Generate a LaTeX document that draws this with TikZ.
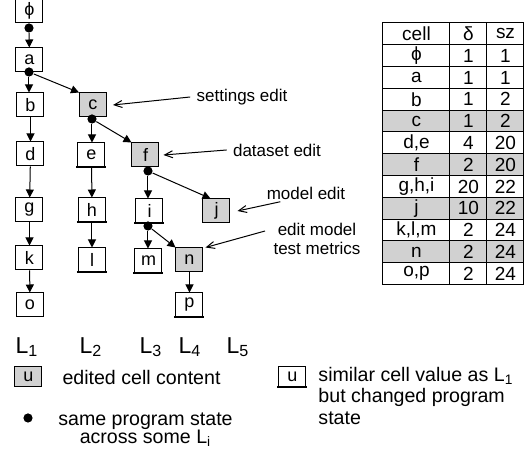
\documentclass[tikz,border=0pt]{standalone}
\usepackage{fontspec}
\setmainfont{Liberation Sans}
\usetikzlibrary{arrows.meta}
\definecolor{editgray}{gray}{0.82}

\begin{document}
\begin{tikzpicture}[x=0.5pt,y=-0.5pt,line width=0.5pt,
		cellbox/.style={draw,minimum width=13.5pt,minimum height=12pt,inner sep=0pt,font=\fontsize{9}{10}\selectfont},
		edited/.style={cellbox,fill=editgray},
		dot/.style={circle,fill,inner sep=0pt,minimum size=4.6pt},
		flow/.style={-{Triangle[length=4pt,width=4pt]}},
		note/.style={font=\fontsize{8.5}{9.5}\selectfont,inner sep=1pt},
		pointer/.style={-{Straight Barb[length=4pt,width=3.5pt]}},
		uline/.style={line width=1pt},
		lane/.style={font=\fontsize{11.5}{12}\selectfont},
		legend/.style={font=\fontsize{9.8}{9}\selectfont,inner sep=0pt},
		tcell/.style={draw,minimum height=10.9pt,inner sep=0pt,font=\fontsize{9.5}{10}\selectfont}]
	\useasboundingbox (0,0) rectangle (532,454);

	% cells of the lanes
	\node[cellbox] (phi) at (29.5,11) {ϕ};
	\node[cellbox] (a) at (29.5,60) {a};
	\node[cellbox] (b) at (30.5,105) {b};
	\node[edited] (c) at (93,105) {c};
	\node[cellbox] (d) at (30.5,154) {d};
	\node[cellbox] (e) at (91.5,155) {e};
	\node[edited] (f) at (145.5,155) {f};
	\node[cellbox] (g) at (29.5,210) {g};
	\node[cellbox] (h) at (92,210) {h};
	\node[cellbox] (i) at (149.5,211) {i};
	\node[edited] (j) at (216.5,211) {j};
	\node[cellbox] (k) at (29.5,258) {k};
	\node[cellbox] (l) at (92,260) {l};
	\node[cellbox] (m) at (148.5,261) {m};
	\node[edited] (n) at (189.5,260) {n};
	\node[cellbox] (o) at (30,305) {o};
	\node[cellbox] (p) at (189.5,305) {p};

	\foreach \u in {e,h,i,l,m,p}
		\draw[uline] ([xshift=-0.5pt]\u.south west) -- ([xshift=0.5pt]\u.south east);

	% shared states
	\node[dot] (dphi) at (29,28) {};
	\node[dot] (da) at (29,72) {};
	\node[dot] (dc) at (92,119) {};
	\node[dot] (df) at (148,171) {};
	\node[dot] (di) at (148,226) {};

	\draw[flow] (dphi) -- (a);
	\draw[flow] (da) -- (da |- b.north);
	\draw[flow] (da) -- (c.north west);
	\draw[flow] (dc) -- (dc |- e.north);
	\draw[flow] (dc) -- (f.north west);
	\draw[flow] (df) -- (df |- i.north);
	\draw[flow] (df) -- ([xshift=-3pt]j.north);
	\draw[flow] (di) -- (di |- m.north);
	\draw[flow] (di) -- (n.north west);
	\draw[flow] (b) -- (d);
	\draw[flow] (d) -- (g);
	\draw[flow] (g) -- (k);
	\draw[flow] (k) -- (o);
	\draw[flow] (e) -- (h);
	\draw[flow] (h) -- (l);
	\draw[flow] (n) -- (p);

	% edits
	\node[note] (settings) at (242,97) {settings edit};
	\node[note] (dataset) at (277,150) {dataset edit};
	\node[note] (model) at (306,193) {model edit};
	\node[note,align=center] (metrics) at (317,239) {edit model\\test metrics};
	\draw[pointer] ([xshift=-2pt]settings.west) -- ([xshift=3pt]c.east);
	\draw[pointer] ([xshift=-2pt]dataset.west) -- ([xshift=2pt]f.east);
	\draw[pointer] ([xshift=8pt]model.south west) -- ([xshift=3.5pt]j.east);
	\draw[pointer] ([shift={(-3pt,4pt)}]metrics.west) -- ([xshift=1pt]n.north east);

	% lanes
	\node[lane] (L1) at (27,347) {L\textsubscript{1}};
	\node[lane] (L2) at (91,347) {L\textsubscript{2}};
	\node[lane] (L3) at (151,347) {L\textsubscript{3}};
	\node[lane] (L4) at (190,347) {L\textsubscript{4}};
	\node[lane] (L5) at (238,347) {L\textsubscript{5}};

	% table
	\foreach \cc/\dd/\ss/\ff [count=\r from 0] in {cell/δ/sz/white, ϕ/1/1/white, a/1/1/white, b/1/2/white,
			c/1/2/editgray, {d,e}/4/20/white, f/2/20/editgray, {g,h,i}/20/22/white, j/10/22/editgray,
			{k,l,m}/2/24/white, n/2/24/editgray, {o,p}/2/24/white} {
		\node[tcell,fill=\ff,minimum width=33.5pt] (cell\r) at (416.5,{33.9+21.8*\r}) {\cc};
		\node[tcell,fill=\ff,minimum width=18.5pt] (del\r) at (468.5,{33.9+21.8*\r}) {\dd};
		\node[tcell,fill=\ff,minimum width=18.5pt] (sz\r) at (505.5,{33.9+21.8*\r}) {\ss};
	}

	% legend
	\node[edited,minimum height=10pt] (lgedit) at (28.5,377) {u};
	\node[legend,anchor=west] (lgedittxt) at (62,377) {edited cell content};
	\node[dot] (lgdot) at (28,418) {};
	\node[legend,align=center,anchor=north] (lgdottxt) at (145.5,412) {same program state\\across some L\textsubscript{i}};
	\node[cellbox,minimum height=10pt] (lgsame) at (292.5,377) {u};
	\draw[uline] ([xshift=-0.5pt]lgsame.south west) -- ([xshift=0.5pt]lgsame.south east);
	\node[legend,align=left,anchor=north west,font=\fontsize{9.8}{10.6}\selectfont] (lgsametxt) at (318,367) {similar cell value as L\textsubscript{1}\\but changed program\\state};
\end{tikzpicture}
\end{document}
